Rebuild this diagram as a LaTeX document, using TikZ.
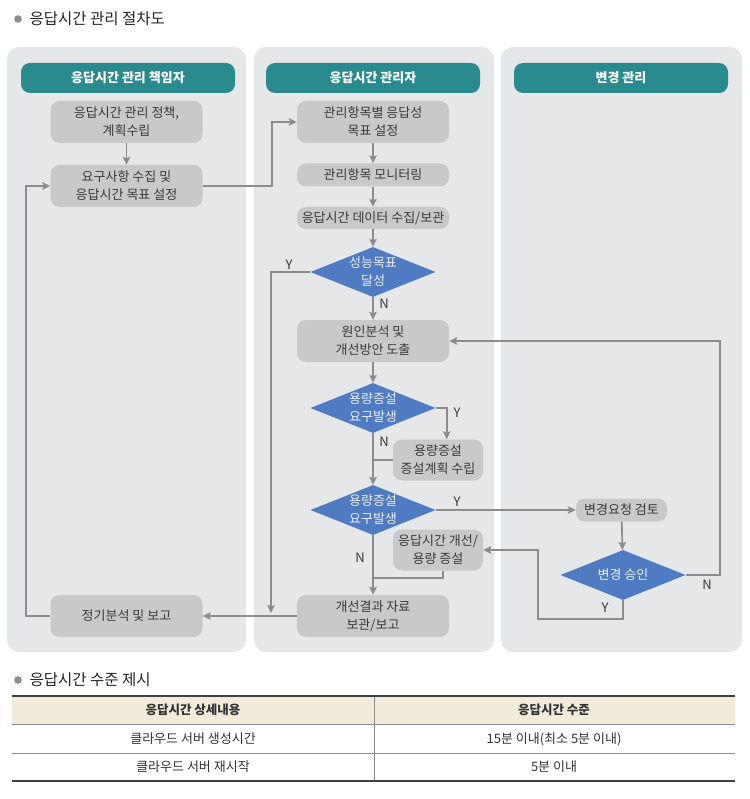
\documentclass[tikz,border=0pt]{standalone}
\usepackage{fontspec}
\setmainfont{Noto Sans CJK KR}
\usetikzlibrary{arrows.meta,shapes.geometric,positioning}
\definecolor{panelgray}{HTML}{E6E7E8}
\definecolor{headteal}{HTML}{2A8B8E}
\definecolor{boxgray}{HTML}{C8C9CA}
\definecolor{diablue}{HTML}{4F7BC3}
\definecolor{linegray}{HTML}{8C8C8C}
\definecolor{txtgray}{HTML}{3A3A3A}
\definecolor{tablehead}{HTML}{F2EBDA}

\begin{document}
\begin{tikzpicture}[x=1pt,y=-1pt,
    every node/.style={font=\fontsize{13}{18}\selectfont, text=txtgray},
    panel/.style={fill=panelgray, rounded corners=12pt},
    header/.style={fill=headteal, rounded corners=9pt, text=white,
        font=\fontsize{13}{15}\selectfont\bfseries, minimum height=30pt},
    proc/.style={fill=boxgray, rounded corners=9pt, align=center, inner sep=0pt},
    decide/.style={diamond, fill=diablue, inner sep=0pt,
        minimum width=125pt, minimum height=50pt,
        label={[align=center, text=white!88!diablue]center:#1}},
    flow/.style={draw=linegray, line width=1.7pt},
    arr/.style={flow, -{Stealth[length=8pt,width=7.5pt,inset=1.5pt]}},
    yn/.style={font=\fontsize{13}{14}\selectfont},
    cell/.style={font=\fontsize{13}{15}\selectfont, text=black!80},
]
\useasboundingbox (0,0) rectangle (749,799);

% title
\fill[linegray] (18,19) circle (3.8pt);
\node[anchor=west, font=\fontsize{15.5}{17}\selectfont, text=black!85] (title) at (26,19) {응답시간 관리 절차도};

% three lanes
\foreach \x/\w in {7/239, 254/240, 501/241}
    \fill[panel] (\x,47) rectangle ++(\w,605);
\node[header, minimum width=214pt] (h1) at (128,78) {응답시간 관리 책임자};
\node[header, minimum width=214pt] (h2) at (373,78) {응답시간 관리자};
\node[header, minimum width=214pt] (h3) at (621,78) {변경 관리};

% lane 1
\node[proc, minimum width=152pt, minimum height=42pt] (plan) at (126.5,122) {응답시간 관리 정책,\\계획수립};
\node[proc, minimum width=152pt, minimum height=42pt] (req) at (126.5,186) {요구사항 수집 및\\응답시간 목표 설정};
\node[proc, minimum width=152pt, minimum height=42pt] (report) at (126.5,616) {정기분석 및 보고};

% lane 2
\node[proc, minimum width=152pt, minimum height=42pt] (goal) at (373,122) {관리항목별 응답성\\목표 설정};
\node[proc, minimum width=152pt, minimum height=23pt] (monitor) at (373,175) {관리항목 모니터링};
\node[proc, minimum width=152pt, minimum height=22pt] (collect) at (373,218) {응답시간 데이터 수집/보관};
\node[decide={성능목표\\달성}] (perf) at (373,272) {};
\node[proc, minimum width=152pt, minimum height=42pt] (cause) at (373,341) {원인분석 및\\개선방안 도출};
\node[decide={용량증설\\요구발생}] (cap1) at (373,408) {};
\node[proc, minimum width=90pt, minimum height=41pt] (capplan) at (438,460) {용량증설\\증설계획 수립};
\node[decide={용량증설\\요구발생}] (cap2) at (373,510) {};
\node[proc, minimum width=90pt, minimum height=41pt] (improve) at (438,550) {응답시간 개선/\\용량 증설};
\node[proc, minimum width=152pt, minimum height=42pt] (store) at (373,616) {개선결과 자료\\보관/보고};

% lane 3
\node[proc, minimum width=91pt, minimum height=23pt] (review) at (621.5,510) {변경요청 검토};
\node[decide={변경 승인}] (approve) at (623,575) {};

% connectors
\coordinate (yjoin) at (271,613);
\draw[arr] (plan) -- (req);
\draw[arr] (req.east) -- ++(69,0) |- (goal.west);
\draw[arr] (goal) -- (monitor);
\draw[arr] (monitor) -- (collect);
\draw[arr] (collect) -- (perf);
\draw[arr] (perf.west) -| (yjoin);
\draw[arr] (perf) -- (cause);
\draw[arr] (cause) -- (cap1);
\draw[arr] (cap1.east) -- ++(11,0) coordinate (c1) -- (c1 |- capplan.north);
\draw[flow] (capplan.west) -- (capplan.west -| cap1.south);
\draw[arr] (cap1) -- (cap2);
\draw[arr] (cap2.east) -- (review.west);
\draw[arr] (cap2) -- (store);
\draw[flow] ([xshift=5pt]improve.south) -- ++(0,7) coordinate (m) -- (m -| cap2.south);
\draw[arr] (store.west) -- (report.east);
\draw[arr] (report.west) -- ++(-24,0) |- (req.west);
\draw[arr] (review) -- (approve);
\draw[arr] (approve.east) -- ++(34,0) |- (cause.east);
\draw[arr] (approve.south) -- ++(0,19) -- ++(-85,0) |- (improve.east);

% branch labels
\node[yn] (ly1) at (289,265) {Y};
\node[yn] (ln1) at (384,304) {N};
\node[yn] (ly2) at (457,413) {Y};
\node[yn] (ln2) at (384,442) {N};
\node[yn] (ly3) at (457,502) {Y};
\node[yn] (ln3) at (360,558) {N};
\node[yn] (ln4) at (707,585) {N};
\node[yn] (ly4) at (605,608) {Y};

% second title and table
\fill[linegray] (18,680) circle (3.8pt);
\node[anchor=west, font=\fontsize{15.5}{17}\selectfont, text=black!85] (title2) at (26,680) {응답시간 수준 제시};
\fill[tablehead] (12,696) rectangle (735,724);
\draw[black!45, line width=1pt] (12,724) -- (735,724) (12,753) -- (735,753) (374,696) -- (374,781);
\draw[black!75, line width=1.6pt] (12,696) -- (735,696) (12,781) -- (735,781);
\node[cell, font=\fontsize{12.5}{15}\selectfont\bfseries] (th1) at (193,710) {응답시간 상세내용};
\node[cell, font=\fontsize{12.5}{15}\selectfont\bfseries] (th2) at (554,710) {응답시간 수준};
\node[cell] (r1a) at (193,739) {클라우드 서버 생성시간};
\node[cell] (r1b) at (554,739) {15분 이내(최소 5분 이내)};
\node[cell] (r2a) at (193,767) {클라우드 서버 재시작};
\node[cell] (r2b) at (554,767) {5분 이내};
\end{tikzpicture}
\end{document}
